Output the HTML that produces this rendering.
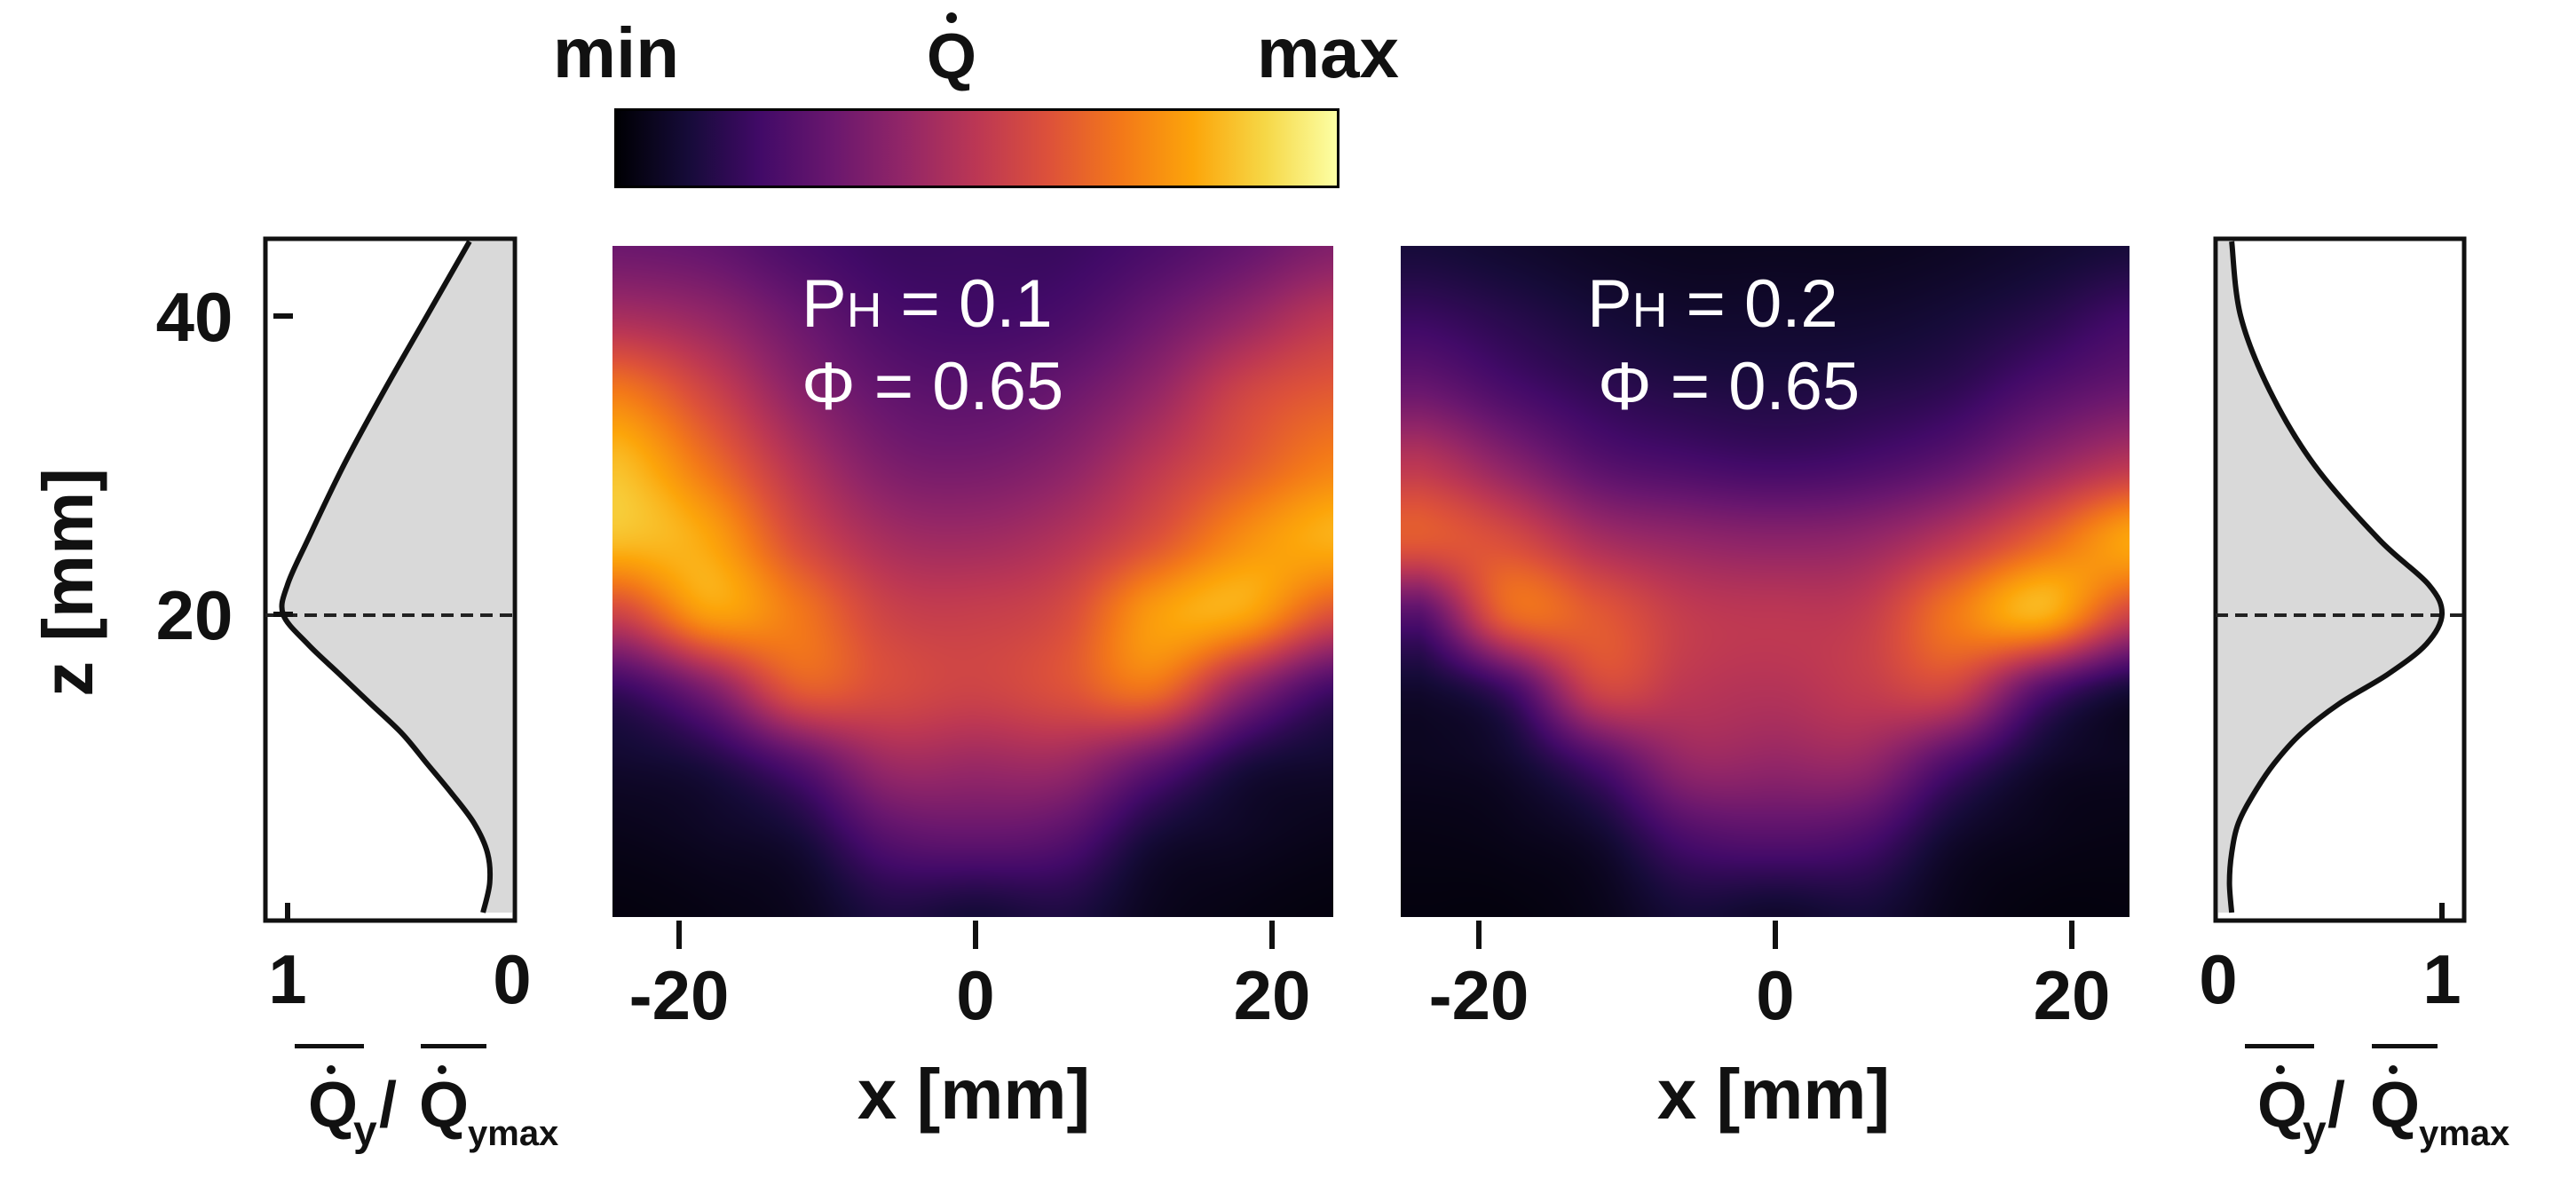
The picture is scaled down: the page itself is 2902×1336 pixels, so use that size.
<!DOCTYPE html>
<html><head><meta charset="utf-8">
<style>
html,body{margin:0;padding:0;background:#fff;}
#root{position:relative;width:2902px;height:1336px;overflow:hidden;background:#fff;font-family:"Liberation Sans",sans-serif;}
canvas{position:absolute;}
svg{position:absolute;left:0;top:0;}
#cbar{position:absolute;left:692px;top:122px;width:811px;height:84px;border:3px solid #000;
background:linear-gradient(to right,#000004 0%,#160b39 10%,#420a68 20%,#6a176e 30%,#932667 40%,#bc3754 50%,#dd513a 60%,#f37819 70%,#fca50a 80%,#f6d746 90%,#fcffa4 100%);}
</style></head><body>
<div id="root">
<div id="cbar"></div>
<canvas id="hm1" width="812" height="756" style="left:690px;top:277px"></canvas>
<canvas id="hm2" width="821" height="756" style="left:1578px;top:277px"></canvas>
<svg id="ov" width="2902" height="1336" font-family="Liberation Sans, sans-serif">
 <g font-weight="bold" fill="#111">
  <text x="694" y="87" font-size="80" text-anchor="middle">min</text>
  <text x="1072" y="88" font-size="72" text-anchor="middle">Q</text>
  <circle cx="1072" cy="20" r="6" fill="#111"/>
  <text x="1576" y="87" font-size="80" text-anchor="end">max</text>
 </g>
 <g id="leftProf"></g>
 <g id="rightProf"></g>
 <g id="axes" font-weight="bold" font-size="78" fill="#111"></g>
 <g fill="#fff" font-size="76">
  <text x="903" y="368">P<tspan font-size="55">H</tspan> = 0.1</text>
  <text x="903" y="461">Φ = 0.65</text>
  <text x="1788" y="368">P<tspan font-size="55">H</tspan> = 0.2</text>
  <text x="1800" y="461">Φ = 0.65</text>
 </g>
 <g font-weight="bold" fill="#111">
  <text x="1097" y="1260" font-size="80" text-anchor="middle">x [mm]</text>
  <text x="1998" y="1260" font-size="80" text-anchor="middle">x [mm]</text>
  <text transform="translate(104,656) rotate(-90)" font-size="80" text-anchor="middle">z [mm]</text>
  <g>
   <text x="347" y="1269" font-size="72">Q</text><text x="398" y="1290" font-size="48">y</text>
   <text x="427" y="1269" font-size="72">/</text>
   <text x="472" y="1269" font-size="72">Q</text><text x="527" y="1290" font-size="40">ymax</text>
   <circle cx="373" cy="1205" r="5"/><circle cx="498" cy="1205" r="5"/>
   <rect x="332" y="1176" width="78" height="5"/><rect x="474" y="1176" width="74" height="5"/>
  </g>
  <g>
   <text x="2543" y="1269" font-size="72">Q</text><text x="2594" y="1290" font-size="48">y</text>
   <text x="2622" y="1269" font-size="72">/</text>
   <text x="2670" y="1269" font-size="72">Q</text><text x="2725" y="1290" font-size="40">ymax</text>
   <circle cx="2569" cy="1205" r="5"/><circle cx="2696" cy="1205" r="5"/>
   <rect x="2529" y="1176" width="78" height="5"/><rect x="2672" y="1176" width="74" height="5"/>
  </g>
 </g>
</svg>
</div>
<script>
// ---- heatmap data (rows z = 45..0 step 5, cols x = -24..24 step 6) ----
const hmX = [-24,-18,-12,-6,0,6,12,18,24];
const hmZ = [45,40,35,30,25,20,15,10,5,0];
const hm1Values = [
[.30,.28,.22,.18,.18,.18,.22,.28,.35],
[.45,.40,.30,.22,.20,.22,.30,.40,.50],
[.70,.55,.38,.28,.26,.30,.40,.55,.62],
[.85,.68,.48,.35,.33,.38,.50,.62,.72],
[.85,.80,.58,.45,.43,.48,.60,.75,.82],
[.55,.78,.70,.55,.53,.58,.78,.80,.60],
[.18,.35,.62,.58,.55,.60,.68,.40,.20],
[.08,.12,.25,.42,.42,.42,.28,.12,.08],
[.04,.06,.10,.25,.28,.25,.10,.06,.04],
[.02,.03,.05,.12,.10,.12,.05,.03,.02]];
const hm2Values = [
[.10,.08,.06,.05,.05,.05,.06,.08,.10],
[.18,.14,.10,.08,.08,.08,.10,.14,.20],
[.30,.22,.16,.13,.12,.13,.16,.24,.30],
[.50,.38,.26,.22,.20,.22,.28,.40,.50],
[.62,.58,.45,.40,.38,.40,.50,.65,.80],
[.25,.65,.62,.52,.50,.52,.70,.82,.55],
[.08,.20,.55,.50,.48,.52,.55,.25,.10],
[.05,.08,.22,.40,.40,.40,.22,.08,.05],
[.03,.04,.08,.22,.25,.22,.08,.04,.03],
[.02,.02,.04,.10,.08,.10,.04,.02,.02]];
// ---- profile data: z (mm) and normalized Q ----
const profZ = [45,40,35,30,25,22,20,18,16,14,12,10,8,6,4,2,0];
const profLeft = [.19,.38,.57,.75,.91,1.0,1.02,.91,.77,.63,.49,.38,.27,.17,.11,.10,.13];
const profRight = [.06,.10,.23,.43,.72,.94,1.0,.93,.76,.54,.37,.25,.16,.09,.06,.05,.06];
const xTicks = [-20,0,20];
const zTicks = [40,20];

const cmap=[[0,0,4],[22,11,57],[66,10,104],[106,23,110],[147,38,103],[188,55,84],[221,81,58],[243,120,25],[252,165,10],[246,215,70],[252,255,164]];
function color(v){v=Math.max(0,Math.min(1,v))*10;const i=Math.min(9,Math.floor(v)),f=v-i;const a=cmap[i],b=cmap[i+1];return [a[0]+(b[0]-a[0])*f,a[1]+(b[1]-a[1])*f,a[2]+(b[2]-a[2])*f];}
const zToY = z => 1028 - z*16.8;
function cr(p0,p1,p2,p3,t){return 0.5*((2*p1)+(-p0+p2)*t+(2*p0-5*p1+4*p2-p3)*t*t+(-p0+3*p1-3*p2+p3)*t*t*t);}
function drawHeat(id, vals, x0px, xZeroPx){
  const cv=document.getElementById(id), ctx=cv.getContext('2d');
  const W=cv.width,H=cv.height, img=ctx.createImageData(W,H);
  const xs=16.7, R=vals.length, C=vals[0].length;
  const g=(r,c)=>vals[Math.max(0,Math.min(R-1,r))][Math.max(0,Math.min(C-1,c))];
  for(let py=0;py<H;py++){
    const z=(1028-(277+py))/16.8;
    let rz=(hmZ[0]-z)/5; rz=Math.max(0,Math.min(R-1.0001,rz));
    const r0=Math.floor(rz), fr=rz-r0;
    for(let px=0;px<W;px++){
      const x=(x0px+px-xZeroPx)/xs;
      let cx=(x-hmX[0])/6; cx=Math.max(0,Math.min(C-1.0001,cx));
      const c0=Math.floor(cx), fc=cx-c0;
      const rows=[];
      for(let k=-1;k<=2;k++){rows.push(cr(g(r0+k,c0-1),g(r0+k,c0),g(r0+k,c0+1),g(r0+k,c0+2),fc));}
      const v=cr(rows[0],rows[1],rows[2],rows[3],fr);
      const c=color(v), k=(py*W+px)*4;
      img.data[k]=c[0];img.data[k+1]=c[1];img.data[k+2]=c[2];img.data[k+3]=255;
    }
  }
  ctx.putImageData(img,0,0);
}
drawHeat('hm1',hm1Values,690,1099);
drawHeat('hm2',hm2Values,1578,2000);

const NS='http://www.w3.org/2000/svg';
function el(tag,attrs,parent){const e=document.createElementNS(NS,tag);for(const k in attrs)e.setAttribute(k,attrs[k]);parent.appendChild(e);return e;}
const axes=document.getElementById('axes');
[[1099,'x-tick-1'],[2000,'x-tick-2']].forEach(([zero,nm])=>{
  xTicks.forEach(t=>{
    const x=zero+t*16.7;
    const m=el('rect',{x:x-3,y:1037,width:6,height:32,fill:'#111'},axes);
    
    
    const tx=el('text',{x:x,y:1148,'text-anchor':'middle'},axes);tx.textContent=String(t);
    
    
  });
});
zTicks.forEach(t=>{
  const y=zToY(t);
  el('rect',{x:308,y:y-3,width:22,height:6,fill:'#111'},axes);
  const tx=el('text',{x:219,y:y+28,'text-anchor':'middle'},axes);tx.textContent=String(t);
  
  
});
function drawProfile(gid, vals, boxL, boxR, zeroX, oneX, labels){
  const g=document.getElementById(gid);
  const sx=v=>zeroX+(oneX-zeroX)*v;
  let d='M'+sx(vals[0])+','+zToY(profZ[0]);
  for(let i=1;i<vals.length;i++){
    const x0=sx(vals[i-1]),y0=zToY(profZ[i-1]),x1=sx(vals[i]),y1=zToY(profZ[i]);
    const xp=i>1?sx(vals[i-2]):x0, yp=i>1?zToY(profZ[i-2]):y0;
    const xn=i<vals.length-1?sx(vals[i+1]):x1, yn=i<vals.length-1?zToY(profZ[i+1]):y1;
    d+=' C'+(x0+(x1-xp)/6)+','+(y0+(y1-yp)/6)+' '+(x1-(xn-x0)/6)+','+(y1-(yn-y0)/6)+' '+x1+','+y1;
  }
  const yTop=zToY(profZ[0]), yBot=zToY(profZ[profZ.length-1]);
  const fill=el('path',{d:d+' L'+zeroX+','+yBot+' L'+zeroX+','+yTop+' Z',fill:'#d9d9d9'},g);
  
  
  el('rect',{x:boxL,y:269,width:boxR-boxL,height:768,fill:'none',stroke:'#111','stroke-width':5},g);
  el('line',{x1:boxL,x2:boxR,y1:zToY(20)+1,y2:zToY(20)+1,stroke:'#222','stroke-width':4,'stroke-dasharray':'14 8'},g);
  const ln=el('path',{d:d,fill:'none',stroke:'#111','stroke-width':6},g);
  
  
  el('rect',{x:oneX-3,y:1017,width:6,height:20,fill:'#111'},g);
  labels.forEach(([v,t])=>{
    const tx=el('text',{x:sx(v),y:1130,'text-anchor':'middle','font-weight':'bold','font-size':78,fill:'#111'},g);tx.textContent=t;
    
    
  });
}
drawProfile('leftProf',profLeft,299,580,577,324,[[1,'1'],[0,'0']]);
drawProfile('rightProf',profRight,2496,2776,2499,2751,[[0,'0'],[1,'1']]);
</script>
</body></html>
